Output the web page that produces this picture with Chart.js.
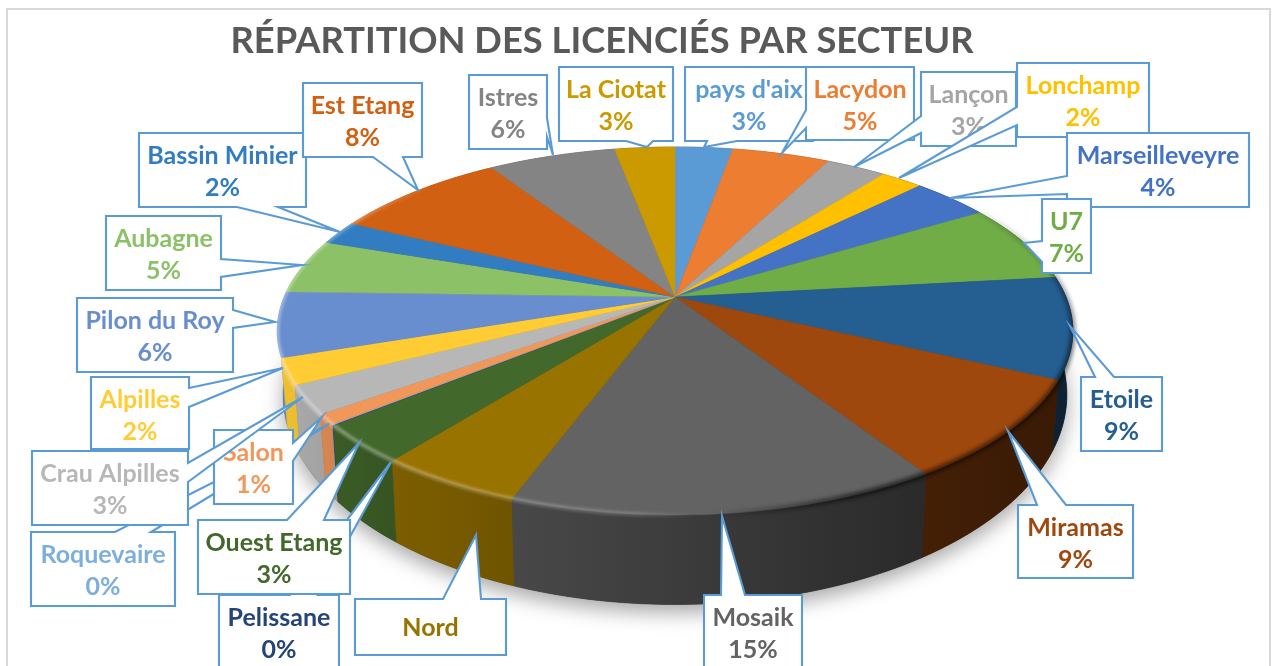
<!DOCTYPE html>
<html lang="fr">
<head>
<meta charset="utf-8">
<title>Répartition des licenciés par secteur</title>
<script src="https://cdn.jsdelivr.net/npm/chart.js@4/dist/chart.umd.min.js"></script>
<style>
	html, body { margin: 0; padding: 0; background: #fff; overflow: hidden; }
	#frame { position: absolute; left: 6px; top: 8px; width: 1261px; height: 670px; border: 2px solid #d9d9d9; }
	canvas { position: absolute; left: 0; top: 0; }
</style>
</head>
<body>
<div id="frame"></div>
<canvas id="pie" width="1275" height="666"></canvas>
<script>
'use strict';

var sectors = ["pays d'aix", 'Lacydon', 'Lançon', 'Lonchamp', 'Marseilleveyre', 'U7', 'Etoile', 'Miramas', 'Mosaik', 'Nord', 'Ouest Etang', 'Pelissane', 'Roquevaire', 'Salon', 'Crau Alpilles', 'Alpilles', 'Pilon du Roy', 'Aubagne', 'Bassin Minier', 'Est Etang', 'Istres', 'La Ciotat'];
var shares = [2.8, 4.75, 2.9, 2.05, 3.8, 6.9, 8.9, 8.8, 14.7, 5, 3.4, 0.04, 0.04, 0.9, 2.5, 2.3, 5.7, 4.8, 2.1, 8.5, 6.2, 2.92];
var shownPercents = ['3%', '5%', '3%', '2%', '4%', '7%', '9%', '9%', '15%', '', '3%', '0%', '0%', '1%', '3%', '2%', '6%', '5%', '2%', '8%', '6%', '3%'];
var colours = ['#5B9BD5', '#ED7D31', '#A5A5A5', '#FFC000', '#4472C4', '#70AD47', '#255E91', '#9E480E', '#636363', '#997300', '#43682B', '#264478', '#7CAFDD', '#F1975A', '#B7B7B7', '#FFCD33', '#698ED0', '#8CC168', '#327DC2', '#D26012', '#848484', '#CA9A00'];

// callout layout, same order as sectors: box [x1, y1, x2, y2]
var calloutBoxes = [
	[685, 67, 813, 141], [806, 67, 914, 140], [921, 72, 1016, 146], [1017, 63, 1149, 137],
	[1067, 133, 1249, 207], [1042, 199, 1091, 273], [1081, 377, 1162, 451], [1018, 505, 1133, 578],
	[704, 595, 802, 670], [355, 599, 506, 655], [198, 520, 350, 594], [219, 595, 339, 670],
	[31, 532, 175, 606], [214, 430, 293, 504], [32, 451, 188, 525], [91, 377, 189, 449],
	[77, 298, 233, 372], [106, 216, 221, 290], [139, 133, 306, 207], [303, 83, 422, 157],
	[469, 75, 547, 149], [559, 67, 673, 141]
];
// pointer: side of the box, two points along that side, tip x, tip y
var calloutPointers = [
	['b', 707, 737, 704, 147], ['l', 110, 128, 782, 153], ['l', 116, 133, 854, 167], ['l', 107, 125, 899, 178],
	['l', 176, 194, 950, 198], ['l', 241, 262, 1024, 243], ['t', 1095, 1114, 1070, 326], ['t', 1037, 1066, 1008, 431],
	['t', 721, 745, 722, 516], ['t', 443, 481, 476, 535], ['t', 287, 324, 359, 443], ['t', 290, 318, 391, 462],
	['t', 115, 151, 329, 424], ['r', 443, 461, 322, 417], ['r', 463, 482, 303, 397], ['r', 388, 407, 283, 368],
	['r', 310, 328, 275, 322], ['r', 259, 277, 302, 265], ['b', 237, 278, 340, 232], ['b', 373, 403, 418, 190],
	['r', 118, 137, 553, 155], ['b', 626, 653, 647, 147]
];
var calloutOrder = [0, 1, 2, 3, 4, 5, 6, 7, 8, 9, 11, 10, 12, 13, 15, 14, 16, 17, 18, 19, 20, 21];

// tilted disc: apex and radii of the perspective projection
var CX = 675, CY = 297, RX = 391, RY = 177.7, TILT = 0.1848;
var BORDER = '#5B9BD5';

function rimPoint(theta) {
	var u = Math.sin(theta);
	var v = -Math.cos(theta);
	var d = 1 - TILT * v;
	return { x: CX + RX * u / d, y: CY + RY * v / d };
}

function basePoint(p) {
	return { x: CX + (p.x - CX) * 0.985, y: CY + 59 + (p.y - CY) * 1.14 };
}

function rimSamples(start, end) {
	var pts = [];
	var steps = Math.max(2, Math.ceil((end - start) / (Math.PI / 180)));
	for (var i = 0; i <= steps; i++) {
		pts.push(rimPoint(start + (end - start) * i / steps));
	}
	return pts;
}

function tracePoints(ctx, pts) {
	pts.forEach(function (p, i) {
		if (i === 0) {
			ctx.moveTo(p.x, p.y);
		} else {
			ctx.lineTo(p.x, p.y);
		}
	});
}

function shadeAt(x) {
	var stops = [[280, 0.94], [330, 0.88], [390, 0.82], [510, 0.73], [920, 0.43], [1060, 0.36]];
	if (x <= stops[0][0]) {
		return stops[0][1];
	}
	for (var i = 1; i < stops.length; i++) {
		if (x <= stops[i][0]) {
			var t = (x - stops[i - 1][0]) / (stops[i][0] - stops[i - 1][0]);
			return stops[i - 1][1] + (stops[i][1] - stops[i - 1][1]) * t;
		}
	}
	return stops[stops.length - 1][1];
}

function darken(hex, f) {
	var n = parseInt(hex.slice(1), 16);
	return 'rgb(' + Math.round((n >> 16) * f) + ',' + Math.round(((n >> 8) & 255) * f) + ',' + Math.round((n & 255) * f) + ')';
}

function sliceAngles(arc) {
	// chart.js starts the pie at -PI/2
	return { start: arc.startAngle + Math.PI / 2, end: arc.endAngle + Math.PI / 2 };
}

function drawShadow(ctx) {
	ctx.save();
	ctx.shadowColor = 'rgba(0,0,0,0.35)';
	ctx.shadowBlur = 20;
	ctx.shadowOffsetY = 8;
	ctx.fillStyle = '#333';
	ctx.beginPath();
	tracePoints(ctx, rimSamples(0, Math.PI * 2).map(basePoint));
	ctx.closePath();
	ctx.fill();
	ctx.restore();
}

function drawWall(ctx, arc, colour) {
	var a = sliceAngles(arc);
	var pts = rimSamples(a.start, a.end);
	var xs = pts.map(function (p) { return p.x; });
	var x0 = Math.min.apply(null, xs);
	var x1 = Math.max.apply(null, xs) + 1;
	var grad = ctx.createLinearGradient(x0, 0, x1, 0);
	for (var i = 0; i <= 5; i++) {
		grad.addColorStop(i / 5, darken(colour, shadeAt(x0 + (x1 - x0) * i / 5)));
	}
	ctx.fillStyle = grad;
	ctx.strokeStyle = grad;
	ctx.lineWidth = 0.6;
	ctx.beginPath();
	tracePoints(ctx, pts.concat(pts.slice().reverse().map(basePoint)));
	ctx.closePath();
	ctx.fill();
	ctx.stroke();
}

function drawTop(ctx, arc, colour) {
	var a = sliceAngles(arc);
	ctx.fillStyle = colour;
	ctx.strokeStyle = colour;
	ctx.lineWidth = 0.5;
	ctx.beginPath();
	ctx.moveTo(CX, CY);
	rimSamples(a.start, a.end).forEach(function (p) {
		ctx.lineTo(p.x, p.y);
	});
	ctx.closePath();
	ctx.fill();
	ctx.stroke();
}

// soft bevel along the front of the rim: light on the left, dark on the right
function drawBevel(ctx) {
	var rim = rimSamples(0, Math.PI * 2);
	var glow = ctx.createConicGradient(-Math.PI / 2, CX, CY);
	glow.addColorStop(175 / 360, 'rgba(255,255,255,0)');
	glow.addColorStop(190 / 360, 'rgba(255,255,255,0.18)');
	glow.addColorStop(235 / 360, 'rgba(255,255,255,0.3)');
	glow.addColorStop(262 / 360, 'rgba(255,255,255,0.42)');
	glow.addColorStop(283 / 360, 'rgba(255,255,255,0.3)');
	glow.addColorStop(295 / 360, 'rgba(255,255,255,0)');
	var dusk = ctx.createConicGradient(-Math.PI / 2, CX, CY);
	dusk.addColorStop(72 / 360, 'rgba(0,0,0,0)');
	dusk.addColorStop(97 / 360, 'rgba(0,0,0,0.55)');
	dusk.addColorStop(137 / 360, 'rgba(0,0,0,0.65)');
	dusk.addColorStop(170 / 360, 'rgba(0,0,0,0)');

	ctx.save();
	ctx.lineCap = 'butt';
	ctx.filter = 'blur(1.6px)';
	ctx.strokeStyle = glow;
	ctx.lineWidth = 4;
	ctx.beginPath();
	tracePoints(ctx, rim);
	ctx.stroke();
	ctx.filter = 'blur(2px)';
	ctx.strokeStyle = dusk;
	ctx.lineWidth = 5;
	ctx.beginPath();
	tracePoints(ctx, rim);
	ctx.stroke();
	ctx.restore();
}

function drawCallout(ctx, i) {
	var box = calloutBoxes[i];
	var w = calloutPointers[i];
	var x1 = box[0], y1 = box[1], x2 = box[2], y2 = box[3];
	var side = w[0], a = w[1], b = w[2], tx = w[3], ty = w[4];

	ctx.beginPath();
	ctx.moveTo(x1, y1);
	if (side === 't') {
		ctx.lineTo(a, y1); ctx.lineTo(tx, ty); ctx.lineTo(b, y1);
	}
	ctx.lineTo(x2, y1);
	if (side === 'r') {
		ctx.lineTo(x2, a); ctx.lineTo(tx, ty); ctx.lineTo(x2, b);
	}
	ctx.lineTo(x2, y2);
	if (side === 'b') {
		ctx.lineTo(b, y2); ctx.lineTo(tx, ty); ctx.lineTo(a, y2);
	}
	ctx.lineTo(x1, y2);
	if (side === 'l') {
		ctx.lineTo(x1, b); ctx.lineTo(tx, ty); ctx.lineTo(x1, a);
	}
	ctx.closePath();
	ctx.fillStyle = '#fff';
	ctx.fill();
	ctx.strokeStyle = BORDER;
	ctx.lineWidth = 2.1;
	ctx.lineJoin = 'miter';
	ctx.stroke();

	var cx = (x1 + x2) / 2;
	ctx.fillStyle = colours[i];
	ctx.font = 'bold 25px Lato, "Open Sans", sans-serif';
	ctx.textAlign = 'center';
	ctx.textBaseline = 'middle';
	if (shownPercents[i]) {
		ctx.fillText(sectors[i], cx, y1 + 23);
		ctx.fillText(shownPercents[i], cx, y1 + 55);
	} else {
		ctx.fillText(sectors[i], cx, (y1 + y2) / 2 + 1);
	}
}

var tiltedPie = {
	id: 'tiltedPie',
	beforeDatasetDraw: function (chart) {
		var ctx = chart.ctx;
		var arcs = chart.getDatasetMeta(0).data;
		var order = arcs.map(function (arc, i) { return i; });

		order.sort(function (p, q) {
			var pa = sliceAngles(arcs[p]), qa = sliceAngles(arcs[q]);
			return rimPoint((pa.start + pa.end) / 2).y - rimPoint((qa.start + qa.end) / 2).y;
		});

		ctx.save();
		drawShadow(ctx);
		order.forEach(function (i) {
			drawWall(ctx, arcs[i], colours[i]);
		});
		arcs.forEach(function (arc, i) {
			drawTop(ctx, arc, colours[i]);
		});
		drawBevel(ctx);
		ctx.restore();
		return false;
	},
	afterDatasetsDraw: function (chart) {
		var ctx = chart.ctx;
		ctx.save();
		calloutOrder.forEach(function (i) {
			drawCallout(ctx, i);
		});
		ctx.restore();
	}
};

new Chart(document.getElementById('pie'), {
	type: 'pie',
	data: {
		labels: sectors,
		datasets: [{
			data: shares,
			backgroundColor: colours,
			borderWidth: 0
		}]
	},
	options: {
		responsive: false,
		animation: false,
		layout: { padding: { right: 71 } },
		plugins: {
			legend: { display: false },
			tooltip: { enabled: false },
			title: {
				display: true,
				text: 'RÉPARTITION DES LICENCIÉS PAR SECTEUR',
				color: '#595959',
				font: { family: 'Lato, "Open Sans", sans-serif', size: 36.3, weight: 'bold' },
				padding: { top: 20, bottom: 8 }
			}
		}
	},
	plugins: [tiltedPie]
});
</script>
</body>
</html>
